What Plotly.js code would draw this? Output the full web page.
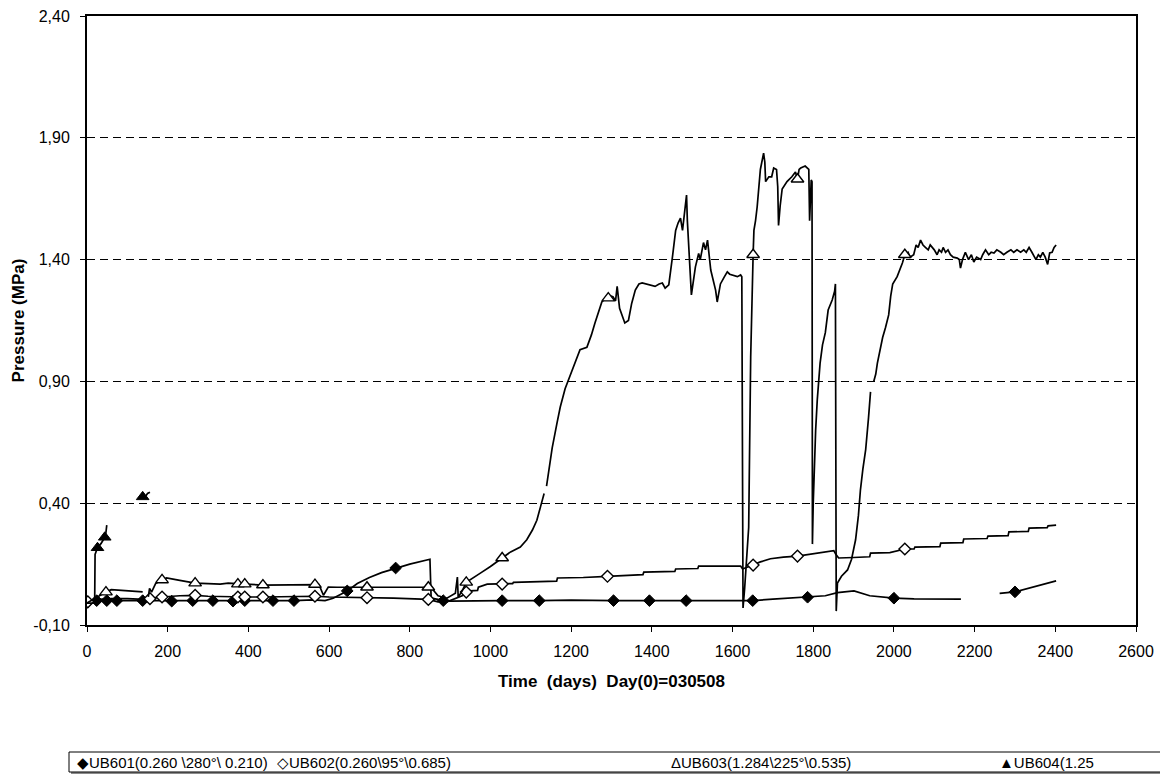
<!DOCTYPE html>
<html><head><meta charset="utf-8">
<script src="https://cdn.plot.ly/plotly-3.0.1.min.js"></script>
<style>html,body{margin:0;padding:0;background:#fff}#chart{width:1160px;height:780px}</style>
</head><body><div id="chart"></div>
<script>
// ---- data: [day, pressure MPa] ----
const ub601 = [[0,-0.01],[2,-0.005],[24,0.0],[49,0.0],[74,0.0],[100,-0.002],[138,0.0],[170,-0.002],[210,-0.002],[262,0.0],[312,0.0],[362,-0.002],[391,0.0],[430,0.0],[461,0.0],[513,0.0],[560,0.003],[590,0.0],[610,0.01],[645,0.04],[670,0.07],[700,0.095],[730,0.115],[765,0.134],[800,0.15],[850,0.17],[853,0.01],[870,0.005],[883,0.0],[900,-0.002],[960,0.0],[1029,0.0],[1121,0.0],[1200,0.002],[1305,0.0],[1394,0.0],[1485,0.0],[1560,0.002],[1620,0.0],[1650,0.0],[1700,0.006],[1786,0.014],[1830,0.02],[1860,0.033],[1901,0.04],[1940,0.02],[2000,0.01],[2050,0.007],[2166,0.006],[2210,null],[2262,0.03],[2300,0.036],[2402,0.081]];

const ub602 = [[0,-0.01],[2,-0.005],[30,0.005],[60,0.008],[100,0.008],[140,0.005],[156,0.008],[170,0.012],[186,0.015],[230,0.02],[268,0.022],[300,0.018],[340,0.016],[374,0.015],[391,0.015],[436,0.015],[500,0.017],[565,0.018],[600,0.015],[650,0.014],[694,0.012],[760,0.01],[846,0.005],[870,-0.005],[892,-0.005],[918,0.01],[930,0.02],[940,0.035],[950,0.04],[968,0.042],[970,0.055],[992,0.068],[1029,0.068],[1055,0.07],[1057,0.075],[1120,0.078],[1164,0.08],[1166,0.093],[1230,0.095],[1290,0.1],[1340,0.105],[1378,0.107],[1380,0.117],[1457,0.12],[1459,0.13],[1514,0.132],[1516,0.142],[1570,0.142],[1620,0.142],[1625,0.13],[1640,0.14],[1651,0.146],[1669,0.159],[1694,0.172],[1726,0.179],[1761,0.183],[1790,0.19],[1810,0.195],[1830,0.2],[1851,0.205],[1856,0.19],[1863,0.175],[1900,0.177],[1940,0.18],[1942,0.195],[1990,0.197],[2027,0.212],[2050,0.212],[2052,0.22],[2114,0.222],[2116,0.236],[2171,0.238],[2173,0.253],[2231,0.255],[2233,0.265],[2283,0.267],[2285,0.282],[2333,0.284],[2335,0.298],[2380,0.3],[2382,0.307],[2402,0.31]];

const ub603 = [[0,-0.01],[10,0.0],[30,0.02],[47,0.035],[60,0.045],[80,0.043],[100,0.042],[120,0.04],[138,0.036],[145,null],[152,0.015],[155,0.05],[160,0.035],[170,0.07],[186,0.085],[197,0.093],[230,0.083],[268,0.072],[300,0.07],[330,0.068],[350,0.072],[374,0.068],[391,0.068],[436,0.064],[500,0.066],[565,0.066],[575,0.066],[586,0.022],[598,0.056],[620,0.055],[694,0.055],[760,0.055],[846,0.055],[855,0.05],[870,0.02],[892,0.01],[913,0.03],[918,0.097],[920,0.015],[930,0.04],[940,0.075],[975,0.113],[1000,0.14],[1029,0.175],[1050,0.2],[1074,0.22],[1090,0.25],[1104,0.29],[1115,0.33],[1124,0.385],[1133,0.44],[1136,null],[1139,0.47],[1146,0.55],[1153,0.627],[1165,0.73],[1173,0.795],[1185,0.87],[1193,0.906],[1205,0.96],[1222,1.03],[1239,1.04],[1250,1.09],[1259,1.14],[1270,1.2],[1276,1.226],[1285,1.24],[1292,1.242],[1300,1.25],[1304,1.247],[1310,1.23],[1314,1.29],[1320,1.2],[1327,1.165],[1333,1.14],[1342,1.15],[1350,1.22],[1359,1.275],[1368,1.3],[1376,1.304],[1386,1.3],[1396,1.296],[1408,1.29],[1418,1.3],[1426,1.304],[1433,1.283],[1442,1.296],[1451,1.41],[1459,1.52],[1465,1.55],[1471,1.57],[1476,1.52],[1480,1.58],[1486,1.665],[1488,1.56],[1494,1.38],[1498,1.255],[1508,1.37],[1516,1.425],[1520,1.4],[1528,1.47],[1533,1.44],[1538,1.48],[1546,1.357],[1558,1.275],[1562,1.226],[1570,1.3],[1580,1.33],[1587,1.35],[1593,1.34],[1600,1.337],[1612,1.33],[1620,1.337],[1623,1.33],[1626,-0.03],[1630,0.05],[1640,0.3],[1645,1.0],[1651,1.42],[1653,1.52],[1657,1.56],[1661,1.616],[1669,1.77],[1677,1.837],[1680,1.8],[1682,1.72],[1690,1.74],[1697,1.74],[1702,1.776],[1709,1.77],[1712,1.7],[1714,1.54],[1718,1.62],[1723,1.69],[1735,1.72],[1747,1.74],[1756,1.76],[1761,1.73],[1765,1.77],[1769,1.776],[1780,1.784],[1789,1.77],[1791,1.56],[1795,1.727],[1797,1.72],[1798,0.232],[1800,0.4],[1803,0.58],[1806,0.7],[1810,0.824],[1817,0.975],[1823,1.05],[1830,1.1],[1837,1.193],[1847,1.234],[1853,1.27],[1855,1.3],[1857,-0.043],[1860,0.072],[1870,0.1],[1885,0.126],[1895,0.17],[1905,0.25],[1912,0.35],[1917,0.455],[1923,0.54],[1930,0.62],[1937,0.75],[1942,0.857],[1946,null],[1950,0.9],[1955,0.93],[1959,0.975],[1967,1.04],[1972,1.08],[1979,1.12],[1987,1.173],[1992,1.25],[1997,1.3],[2008,1.33],[2015,1.36],[2021,1.386],[2027,1.42],[2035,1.43],[2040,1.41],[2049,1.42],[2055,1.46],[2060,1.45],[2066,1.48],[2072,1.46],[2078,1.45],[2085,1.44],[2090,1.46],[2095,1.45],[2100,1.44],[2107,1.42],[2112,1.44],[2118,1.43],[2122,1.45],[2128,1.43],[2134,1.44],[2140,1.42],[2147,1.41],[2157,1.406],[2162,1.4],[2165,1.365],[2170,1.4],[2177,1.43],[2185,1.4],[2192,1.42],[2198,1.39],[2205,1.41],[2215,1.4],[2220,1.42],[2227,1.44],[2235,1.42],[2241,1.43],[2248,1.427],[2255,1.44],[2265,1.43],[2272,1.42],[2280,1.43],[2290,1.44],[2297,1.43],[2305,1.44],[2314,1.43],[2322,1.44],[2328,1.43],[2335,1.45],[2342,1.43],[2352,1.4],[2358,1.42],[2363,1.41],[2369,1.43],[2375,1.41],[2381,1.38],[2386,1.427],[2392,1.43],[2397,1.45],[2402,1.46]];

const ub604 = [[0,-0.01],[19,-0.01],[20,0.19],[26,0.217],[35,0.235],[44,0.26],[47,0.28],[49,0.31],[60,null],[138,0.426],[146,0.43],[150,0.44],[156,0.445]];

// days at which the series show a marker
const ub601Marks = [2,24,49,74,138,210,262,312,362,391,461,513,645,765,883,1029,1121,1305,1394,1485,1650,1786,2000,2300];
const ub602Marks = [2,156,186,268,374,391,436,565,694,846,940,1029,1290,1651,1761,2027];
const ub603Marks = [47,186,268,374,391,436,565,694,846,940,1029,1292,1651,1761,2027];
const ub604Marks = [26,44,138];

const seriesNames = ['UB601(0.260 \\280°\\ 0.210)','UB602(0.260\\95°\\0.685)','UB603(1.284\\225°\\0.535)','UB604(1.25'];
const legendGlyphs = ['◆','◇','Δ','▲'];

const yTickVals = [-0.1, 0.4, 0.9, 1.4, 1.9, 2.4];
const yTickText = ['-0,10','0,40','0,90','1,40','1,90','2,40'];
const xTitle = 'Time\u00a0 (days)\u00a0 Day(0)=030508';
const yTitle = 'Pressure (MPa)';

// ---- build ----
const FONT = 'Liberation Sans, Arial, Helvetica, sans-serif';
const series = [ub601, ub602, ub603, ub604];
const marks = [ub601Marks, ub602Marks, ub603Marks, ub604Marks];
const markerStyles = [
  {symbol:'diamond', size:9, color:'#000', line:{color:'#000', width:1}},
  {symbol:'diamond', size:9, color:'#fff', line:{color:'#000', width:1.4}},
  {symbol:'triangle-up', size:11, color:'#fff', line:{color:'#000', width:1.4}},
  {symbol:'triangle-up', size:11, color:'#000', line:{color:'#000', width:1}}
];

const traces = [];
series.forEach((s, i) => {
  const days = s.map(d => d[0]);
  const vals = s.map(d => d[1]);
  traces.push({type:'scatter', mode:'lines', x:days, y:vals, name:seriesNames[i],
    line:{color:'#000', width:1.7}, connectgaps:false, hoverinfo:'skip'});
  const mx = marks[i];
  const my = mx.map(d => vals[days.indexOf(d)]);
  traces.push({type:'scatter', mode:'markers', x:mx, y:my, name:seriesNames[i],
    marker:markerStyles[i], hoverinfo:'skip'});
});

const PL = 87, PR = 1136, PT = 16, PB = 625;
const fx = v => (v - PL) / (PR - PL);
const fy = v => (PB - v) / (PB - PT);

const legendX = [75, 275, 669, 997];
const annotations = seriesNames.map((n, i) => ({
  xref:'paper', yref:'paper', x:fx(legendX[i]), y:fy(762), xanchor:'left', yanchor:'middle',
  text: legendGlyphs[i] + n, showarrow:false, font:{family:FONT, size:15, color:'#000'}
}));

const layout = {
  width:1160, height:780,
  margin:{l:PL, r:1160-PR, t:PT, b:780-PB},
  paper_bgcolor:'#fff', plot_bgcolor:'#fff',
  showlegend:false,
  font:{family:FONT, size:16, color:'#000'},
  xaxis:{range:[0,2600], tick0:0, dtick:200, ticks:'outside', ticklen:5, tickwidth:1, tickcolor:'#000',
    showline:true, linecolor:'#000', linewidth:2, mirror:true, showgrid:false, zeroline:false,
    ticklabelstandoff:6,
    tickfont:{size:16}, title:{text:'<b>'+xTitle+'</b>', font:{size:17}, standoff:16}},
  yaxis:{range:[-0.1,2.4], tickvals:yTickVals, ticktext:yTickText, ticks:'outside', ticklen:5, tickwidth:1, tickcolor:'#000',
    showline:true, linecolor:'#000', linewidth:2, mirror:true, showgrid:true, gridcolor:'#000', gridwidth:1,
    griddash:'8px,5px', zeroline:false, tickfont:{size:16}, ticklabelstandoff:7,
    title:{text:'<b>'+yTitle+'</b>', font:{size:17}, standoff:4}},
  shapes:[
    {type:'rect', xref:'paper', yref:'paper', x0:fx(71), x1:fx(1175), y0:fy(774), y1:fy(754), fillcolor:'#8a8a8a', line:{width:0}},
    {type:'rect', xref:'paper', yref:'paper', x0:fx(69), x1:fx(1172), y0:fy(772), y1:fy(752), fillcolor:'#fff', line:{color:'#000', width:1}}
  ],
  annotations: annotations
};

Plotly.newPlot('chart', traces, layout, {staticPlot:true, displayModeBar:false});
</script>
</body></html>
